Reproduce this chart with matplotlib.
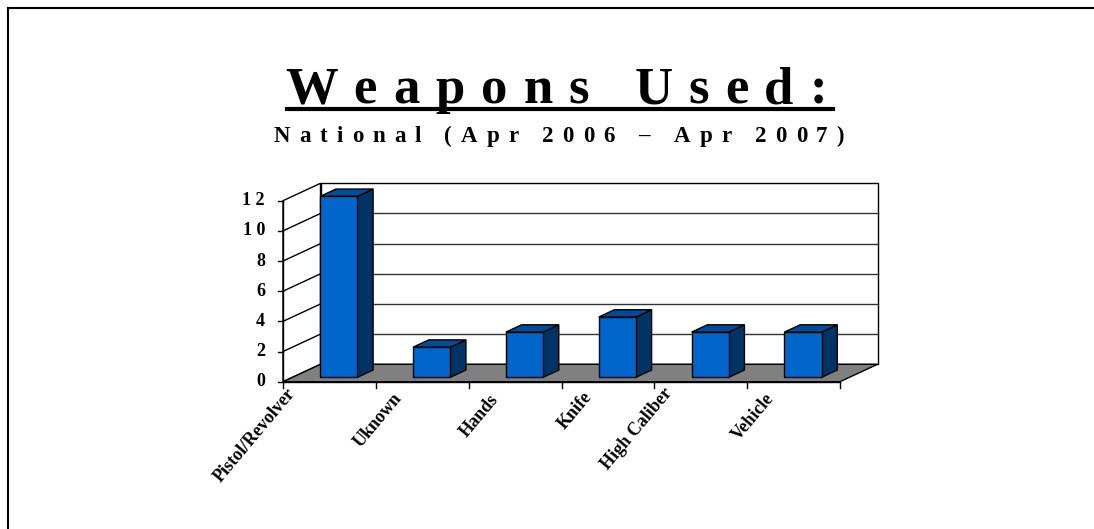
import matplotlib
matplotlib.use("Agg")
import matplotlib.pyplot as plt
from matplotlib.patches import Polygon
from matplotlib.lines import Line2D
from matplotlib.font_manager import findfont, FontProperties
from matplotlib.ft2font import FT2Font
import matplotlib.transforms as mtrans

# ---------------- data ----------------
categories = ["Pistol/Revolver", "Uknown", "Hands", "Knife", "High Caliber", "Vehicle"]
values = [12, 2, 3, 4, 3, 3]
y_ticks = [0, 2, 4, 6, 8, 10, 12]
title = "Weapons Used:"
subtitle = "National (Apr 2006 \u2013 Apr 2007)"

# ---------------- layout / style ----------------
W, H = 1094, 529
FRONT_COLOR = "#0066CC"
SIDE_COLOR = "#003366"
TOP_COLOR = "#004C99"
FLOOR_COLOR = "#808080"
GRID_COLOR = "#333333"
SERIF = "Liberation Serif"

DX = 37.5 / 92.83      # depth offset in category units
DY = 17.4 / 15.083     # depth offset in value units
BAR_F0 = 0.25          # bar front depth fraction
BAR_D = 0.42           # bar depth fraction
BAR_HALF = 0.2         # half bar width in category units

# label anchors (category-unit x, pixel drop below axis)
LABEL_POS = [(0.03, 3), (1.18, 8), (2.22, 10), (3.23, 7), (4.09, 3), (5.19, 8)]
LABEL_ROT = 50

fig = plt.figure(figsize=(W / 100, H / 100), dpi=100)
fig.patch.set_facecolor("white")


def fx(x):
    return x / W


def fy(y):
    return 1 - y / H


# outer border (left and top only visible)
fig.add_artist(Line2D([fx(7.5), fx(7.5)], [fy(530), fy(7.5)], color="black", lw=1.5,
                      transform=fig.transFigure))
fig.add_artist(Line2D([fx(7.5), fx(1095)], [fy(7.5), fy(7.5)], color="black", lw=1.5,
                      transform=fig.transFigure))

# ---------------- axes ----------------
ax = fig.add_axes([fx(283), fy(381.7), 557 / W, 181 / H])
ax.set_xlim(0, len(categories))
ax.set_ylim(0, max(y_ticks))
ax.axis("off")
n = len(categories)
ymax = max(y_ticks)

# back wall
ax.add_patch(Polygon([(DX, DY), (n + DX, DY), (n + DX, ymax + DY), (DX, ymax + DY)],
                     closed=True, facecolor="white", edgecolor="black", lw=1, clip_on=False, zorder=1))
# grid lines on back wall
for v in y_ticks[1:-1]:
    ax.plot([DX, n + DX], [v + DY, v + DY], color=GRID_COLOR, lw=1, clip_on=False, zorder=2)
# side wall
ax.add_patch(Polygon([(0, 0), (DX, DY), (DX, ymax + DY), (0, ymax)],
                     closed=True, facecolor="white", edgecolor="black", lw=1, clip_on=False, zorder=1))
for v in y_ticks[1:-1]:
    ax.plot([0, DX], [v, v + DY], color="black", lw=1, clip_on=False, zorder=2)
# floor
ax.add_patch(Polygon([(0, 0), (n, 0), (n + DX, DY), (DX, DY)],
                     closed=True, facecolor=FLOOR_COLOR, edgecolor="black", lw=1, clip_on=False, zorder=3))

# bars
ox, oy = BAR_D * DX, BAR_D * DY
for i, v in enumerate(values):
    x0 = i + 0.5 - BAR_HALF + BAR_F0 * DX
    x1 = i + 0.5 + BAR_HALF + BAR_F0 * DX
    y0 = BAR_F0 * DY
    y1 = v + BAR_F0 * DY
    ax.add_patch(Polygon([(x1, y0), (x1 + ox, y0 + oy), (x1 + ox, y1 + oy), (x1, y1)],
                         closed=True, facecolor=SIDE_COLOR, edgecolor="black", lw=1, clip_on=False, zorder=4))
    ax.add_patch(Polygon([(x0, y1), (x1, y1), (x1 + ox, y1 + oy), (x0 + ox, y1 + oy)],
                         closed=True, facecolor=TOP_COLOR, edgecolor="black", lw=1, clip_on=False, zorder=4))
    ax.add_patch(Polygon([(x0, y0), (x1, y0), (x1, y1), (x0, y1)],
                         closed=True, facecolor=FRONT_COLOR, edgecolor="black", lw=1, clip_on=False, zorder=5))

# front axes lines
ax.plot([0, 0], [0, ymax], color="black", lw=1, clip_on=False, zorder=6)
ax.plot([0, n], [0, 0], color="black", lw=1, clip_on=False, zorder=6)

label_left = mtrans.offset_copy(ax.transData, fig=fig, x=-18, y=0, units="dots")
for v in y_ticks:
    base = ax.transData.transform((0, v))
    fig.add_artist(Line2D([fx(base[0] - 5), fx(base[0])], [base[1] / H, base[1] / H],
                          color="black", lw=1, transform=fig.transFigure))
    ax.text(0, v, " ".join(str(v)), transform=label_left, ha="right", va="center",
            fontsize=13, fontweight="bold", family=SERIF)

# x ticks
for k in range(n + 1):
    base = ax.transData.transform((k, 0))
    fig.add_artist(Line2D([base[0] / W, base[0] / W], [base[1] / H, (base[1] - 6) / H],
                          color="black", lw=1, transform=fig.transFigure))

for (lx, drop), lab in zip(LABEL_POS, categories):
    tr = mtrans.offset_copy(ax.transData, fig=fig, x=0, y=-drop, units="dots")
    ax.text(lx, 0, lab, transform=tr, rotation=LABEL_ROT, rotation_mode="anchor",
            ha="right", va="top", fontsize=13, fontweight="bold", family=SERIF)


# ---------------- titles (letter spaced) ----------------
def spaced_text(s, cx, baseline_y, size_pt, spacing_px):
    fp = FontProperties(family=SERIF, weight="bold")
    font = FT2Font(findfont(fp))
    font.set_size(size_pt, 100)
    adv = []
    for ch in s:
        g = font.load_char(ord(ch))
        adv.append(g.linearHoriAdvance / 65536)
    total = sum(adv) + spacing_px * (len(s) - 1)
    x = cx - total / 2
    for ch, a in zip(s, adv):
        if ch != " ":
            fig.text(fx(x), fy(baseline_y), ch, ha="left", va="baseline",
                     fontsize=size_pt, fontweight="bold", family=SERIF)
        x += a + spacing_px
    return cx - total / 2, cx + total / 2


spaced_text(title, 556, 103, 38, 16)
fig.add_artist(Line2D([fx(287), fx(833)], [fy(108.5), fy(108.5)], color="black", lw=3,
                      transform=fig.transFigure))
spaced_text(subtitle, 559, 142, 16.5, 9)

fig.savefig("out.png", dpi=100, facecolor="white")
